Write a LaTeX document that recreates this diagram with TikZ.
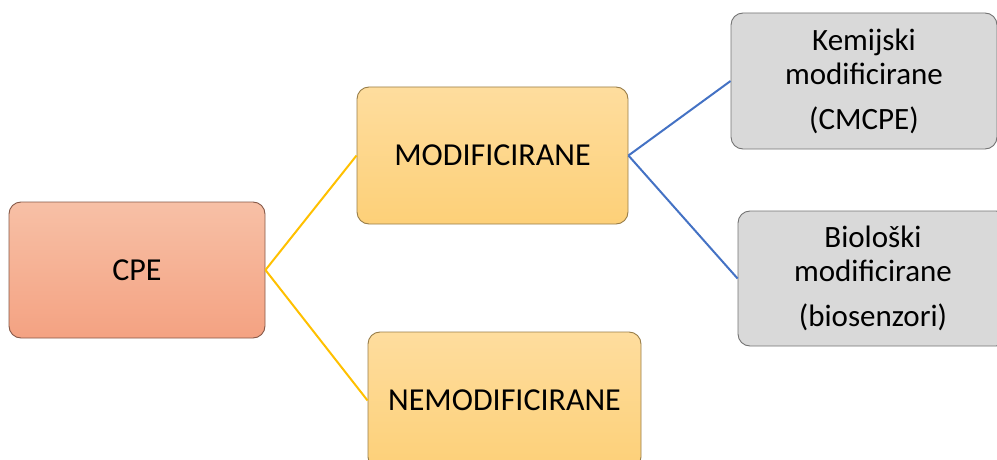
\documentclass[tikz,border=0pt]{standalone}
\usepackage{fontspec}
\setmainfont{Carlito}
\definecolor{cpetop}{HTML}{F7C0A6}
\definecolor{cpebot}{HTML}{F4A282}
\definecolor{ylwtop}{HTML}{FEDD9E}
\definecolor{ylwbot}{HTML}{FDD078}
\definecolor{graybox}{HTML}{D9D9D9}
\definecolor{yline}{HTML}{FFC000}
\definecolor{bline}{HTML}{4472C4}
\begin{document}
\begin{tikzpicture}[x=1pt,y=-1pt,
  boxbase/.style={rectangle, rounded corners=12pt, line width=0.9pt, inner sep=0pt, align=center, anchor=center},
  redbox/.style={boxbase, draw=black!45!cpebot, top color=cpetop, bottom color=cpebot, font=\fontsize{32}{38}\selectfont},
  ylwbox/.style={boxbase, draw=black!40!ylwbot, top color=ylwtop, bottom color=ylwbot, font=\fontsize{32}{38}\selectfont},
  grybox/.style={boxbase, draw=black!55, fill=graybox, font=\fontsize{31}{34}\selectfont},
  yconn/.style={draw=yline, line width=2pt},
  bconn/.style={draw=bline, line width=2pt}]
\useasboundingbox (0,0) rectangle (997,460);
\clip (0,0) rectangle (997,460);
\node[redbox, minimum width=256pt, minimum height=136pt] (cpe) at (137,270) {CPE};
\node[ylwbox, minimum width=271pt, minimum height=137pt] (mod) at (492.5,155.5) {MODIFICIRANE};
\node[ylwbox, minimum width=273pt, minimum height=137pt] (nemod) at (504.5,400.5) {NEMODIFICIRANE};
\node[grybox, minimum width=266pt, minimum height=136pt] (kem) at (864,81) {Kemijski\\modificirane\\[11pt](CMCPE)};
\node[grybox, minimum width=270pt, minimum height=135pt] (bio) at (873,278.5) {Biološki\\modificirane\\[11pt](biosenzori)};
\draw[yconn] (cpe.east) -- (mod.west);
\draw[yconn] (cpe.east) -- (nemod.west);
\draw[bconn] (mod.east) -- (kem.west);
\draw[bconn] (mod.east) -- (bio.west);
\end{tikzpicture}
\end{document}
